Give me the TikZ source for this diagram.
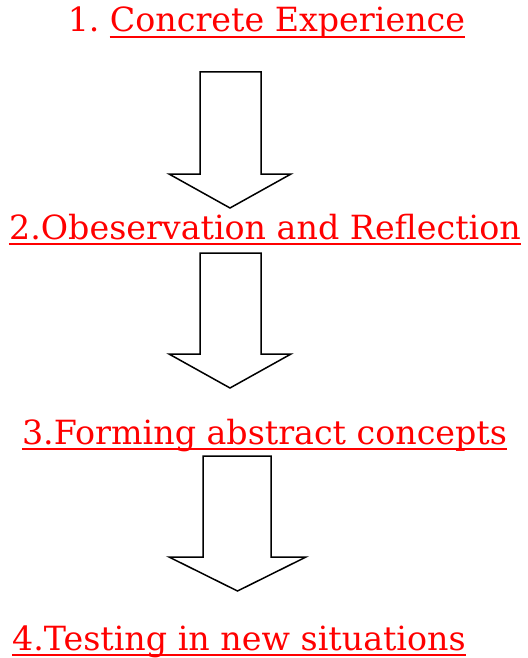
\documentclass[tikz,border=0pt]{standalone}
\usepackage{fontspec}
\setmainfont{DejaVu Serif}
\usepackage{xcolor}
\usetikzlibrary{positioning}
\definecolor{Stage}{HTML}{FF0000}
\definecolor{Ink}{HTML}{000000}

\tikzset{
  stagetext/.style={font=\fontsize{33.3}{38}\selectfont,text=Stage,inner sep=0pt},
  uline/.style={draw=Stage,line width=1.7pt},
  blockarrow/.style={draw=Ink,line width=1.5pt,fill=white,line join=miter}
}

\begin{document}
\begin{tikzpicture}[x=1pt,y=1pt]
  \useasboundingbox (0,0) rectangle (527,-658);
  % stages
  \node[stagetext,anchor=base] (ce) at (287.5,-32) {Concrete Experience};
  \node[stagetext,anchor=base east] (cenum) at ([xshift=-10pt]ce.base west) {1.};
  \node[stagetext,anchor=base] (obs) at (265,-239) {2.Obeservation and Reflection};
  \node[stagetext,anchor=base] (abs) at (264.5,-444) {3.Forming abstract concepts};
  \node[stagetext,anchor=base west] (test) at (12,-650) {4.Testing in new situations};
  \foreach \n in {ce,obs,abs,test}
    \draw[uline] ([yshift=-5pt]\n.base west) -- ([yshift=-5pt]\n.base east);
  % block arrows
  \foreach \l/\r/\top/\sh/\wl/\wr/\tip in {
    200/261/72/174/169/291/208,
    200/261/253/354/169/291/388,
    203/271/456/557/169/306/591} {
    \draw[blockarrow] (\l,-\top) -- (\r,-\top) -- (\r,-\sh) -- (\wr,-\sh)
      -- ({(\wl+\wr)/2},-\tip) -- (\wl,-\sh) -- (\l,-\sh) -- cycle;
  }
\end{tikzpicture}
\end{document}
